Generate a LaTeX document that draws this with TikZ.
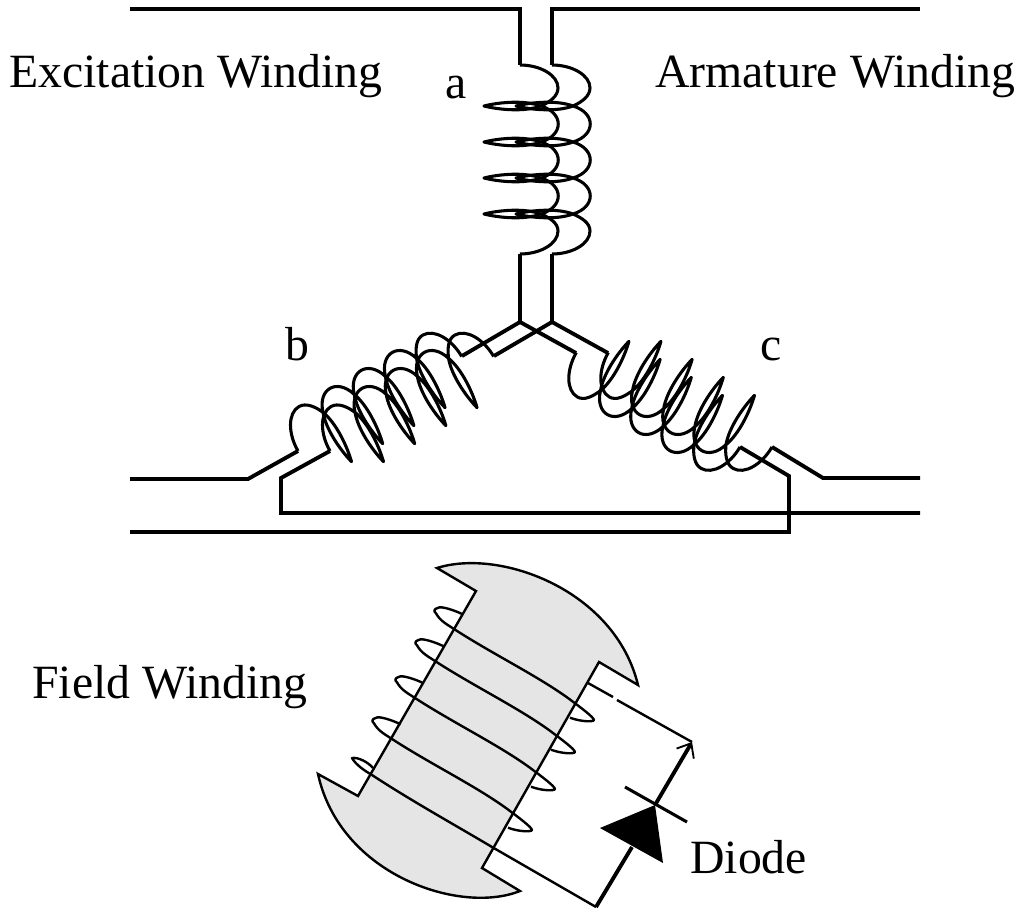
\documentclass[tikz,border=0pt]{standalone}
\usepackage{fontspec}
\setmainfont{Liberation Serif}
\usetikzlibrary{arrows.meta}

\tikzset{
  wire/.style = {line width = 2.9pt, line join = miter},
  coilwire/.style = {line width = 2.3pt, line join = round},
  thinwire/.style = {line width = 1.8pt, line join = round},
  textlabel/.style = {anchor = base west, inner sep = 0pt, font = \fontsize{35.8}{40}\selectfont}
}
\definecolor{rotorgray}{HTML}{E5E5E5}

% one winding, drawn from its start point
\newcommand{\coil}[2]{
\draw[coilwire, shift = {#1}, rotate = #2] (0,0) .. controls (20,0) and (38,10) .. (38,23) .. controls (38,31) and (30,37) .. (21,41)
  \foreach \row in {41,77,113} {
    .. controls (5,\row-6) and (-20,\row-4) .. (-36,\row) .. controls (-20,\row+4) and (5,\row+6) .. (21,\row)
    .. controls (44,\row+7) and (44,\row+29) .. (21,\row+36)
  }
  .. controls (5,143) and (-20,145) .. (-36,149) .. controls (-20,153) and (5,155) .. (21,149)
  .. controls (30,153) and (38,158) .. (38,166) .. controls (38,179) and (20,189) .. (0,189);
}

\begin{document}
\begin{tikzpicture}[x = .75pt, y = -.75pt]
\useasboundingbox (0,0) rectangle (1024,921);

\coordinate (topl) at (520,9);
\coordinate (topr) at (552,9);
\coordinate (stara) at (520,322);
\coordinate (starb) at (552,322);

% stator
\draw[wire] (130,9) -- (topl) -- (520,65);
\draw[wire] (920,9) -- (topr) -- (552,65);
\coil{(520,65)}{0}
\coil{(552,65)}{0}
\draw[wire] (520,254) -- (stara);
\draw[wire] (552,254) -- (starb);

\coil{(298,451)}{120}
\coil{(330,451)}{120}
\draw[wire] (130,479) -- (248,479) -- (298,451);
\draw[wire] (920,513) -- (281,513) -- (281,478) -- (330,451);
\draw[wire] (462,356) -- (stara);
\draw[wire] (494,356) -- (starb);

\coil{(740,447)}{-120}
\coil{(772,447)}{-120}
\draw[wire] (920,478) -- (823,478) -- (772,447);
\draw[wire] (130,532) -- (789,532) -- (789,476) -- (740,447);
\draw[wire] (576,353) -- (stara);
\draw[wire] (608,353) -- (starb);

% rotor
\filldraw[fill = rotorgray, line width = 1.8pt, line join = miter] (437,568) -- (476,591) -- (358,796) -- (318,774)
  .. controls (340,875) and (460,915) .. (520,891) -- (482,868) -- (599,662) -- (638,685)
  .. controls (615,590) and (500,548) .. cycle;
\foreach \fx/\fy in {454/629, 435/661, 415/698, 392/739} {
  \draw[thinwire, shift = {(\fx,\fy)}] (8.7,-14.7) .. controls (0,-19) and (-13,-23) .. (-15.7,-21.3) .. controls (-21,-20) and (-20,-17) .. (-18,-15.7) .. controls (-14,-8) and (-6,-4) .. (0,0)
    .. controls (40,26) and (90,50) .. (121,74.3) .. controls (130,81) and (143,91) .. (139.3,91.7) .. controls (135,93) and (125,92) .. (116,88.7);
}

% diode loop
\coordinate (bend) at (596,907);
\coordinate (anode) at (632,847);
\coordinate (cathode) at (655,805);
\coordinate (corner) at (692,742);
\draw[thinwire] (373,768) .. controls (368,762) and (358,757) .. (352,758) .. controls (356,765) and (365,771) .. (372,775)
  .. controls (410,800) and (455,825) .. (492,847) -- (bend);
\draw[wire] (bend) -- (anode);
\fill (600,828) -- (cathode) -- (663,863) -- cycle;
\draw[coilwire] (625,787) -- (687,822);
\draw[wire, -{Straight Barb[length = 9pt, width = 15pt, line width = 1.4pt]}] (cathode) -- (corner);
\draw[thinwire] (corner) -- (617,700);
\draw[thinwire] (613,697) -- (588,683);

\node[textlabel] (excitation) at (9,87) {Excitation Winding};
\node[textlabel] (armature) at (655,87) {Armature Winding};
\node[textlabel] (field) at (32,698) {Field Winding};
\node[textlabel] (diode) at (690,873) {Diode};
\node[textlabel] (a) at (445,98) {a};
\node[textlabel] (b) at (285,360) {b};
\node[textlabel] (c) at (760,360) {c};
\end{tikzpicture}
\end{document}
